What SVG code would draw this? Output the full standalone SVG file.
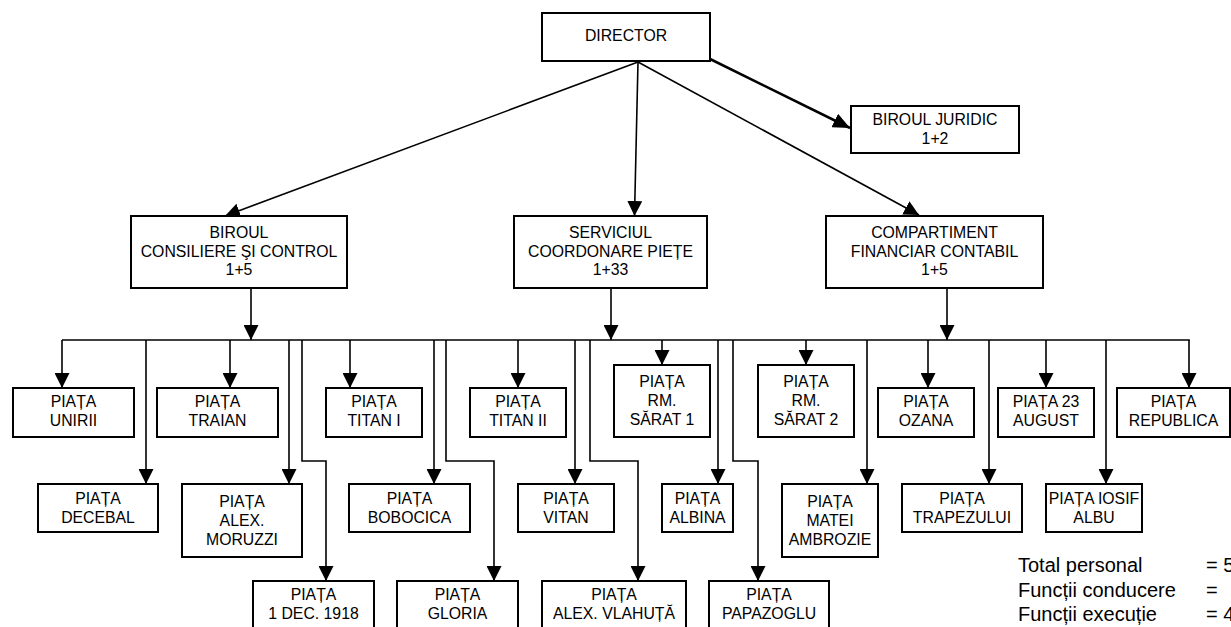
<svg xmlns="http://www.w3.org/2000/svg" width="1231" height="627" viewBox="0 0 1231 627">
<style>
  .box { fill: #fff; stroke: #000; stroke-width: 2; }
  .t { font-family: "Liberation Sans", Arial, sans-serif; font-size: 15.8px; fill: #000; text-anchor: middle; }
  .lg { font-family: "Liberation Sans", Arial, sans-serif; font-size: 20px; fill: #000; }
  .c { fill: none; stroke: #000; stroke-width: 1.6; }
  .cb { fill: none; stroke: #000; stroke-width: 2.6; }
</style>
<defs>
  <marker id="ah" markerUnits="userSpaceOnUse" viewBox="0 0 15 15" markerWidth="15" markerHeight="15" refX="15" refY="7.5" orient="auto">
    <path d="M0,0 L15,7.5 L0,15 Z" fill="#000"/>
  </marker>
  <marker id="ahb" markerUnits="userSpaceOnUse" viewBox="0 0 17 15" markerWidth="17" markerHeight="15" refX="17" refY="7.5" orient="auto">
    <path d="M0,0 L17,7.5 L0,15 Z" fill="#000"/>
  </marker>
</defs>

<g id="connectors">
  <line class="c" x1="638" y1="62" x2="225" y2="216" marker-end="url(#ah)"/>
  <line class="c" x1="638" y1="62" x2="634.5" y2="216" marker-end="url(#ah)"/>
  <line class="c" x1="638" y1="62" x2="919" y2="215" marker-end="url(#ah)"/>
  <line class="cb" x1="706" y1="57" x2="850" y2="128" marker-end="url(#ahb)"/>

  <line class="c" x1="251" y1="288" x2="251" y2="340" marker-end="url(#ah)"/>
  <line class="c" x1="611" y1="288" x2="611" y2="340" marker-end="url(#ah)"/>
  <line class="c" x1="947" y1="288" x2="947" y2="340" marker-end="url(#ah)"/>

  <line class="c" x1="62" y1="340" x2="1189.8" y2="340"/>

  <line class="c" x1="62" y1="340" x2="62" y2="388" marker-end="url(#ah)"/>
  <line class="c" x1="230" y1="340" x2="230" y2="388" marker-end="url(#ah)"/>
  <line class="c" x1="350" y1="340" x2="350" y2="388" marker-end="url(#ah)"/>
  <line class="c" x1="518" y1="340" x2="518" y2="388" marker-end="url(#ah)"/>
  <line class="c" x1="662" y1="340" x2="662" y2="365" marker-end="url(#ah)"/>
  <line class="c" x1="806" y1="340" x2="806" y2="365" marker-end="url(#ah)"/>
  <line class="c" x1="928" y1="340" x2="928" y2="388" marker-end="url(#ah)"/>
  <line class="c" x1="1046" y1="340" x2="1046" y2="388" marker-end="url(#ah)"/>
  <line class="c" x1="1189" y1="340" x2="1189" y2="388" marker-end="url(#ah)"/>

  <line class="c" x1="146" y1="340" x2="146" y2="484" marker-end="url(#ah)"/>
  <line class="c" x1="289" y1="340" x2="289" y2="484" marker-end="url(#ah)"/>
  <line class="c" x1="434" y1="340" x2="434" y2="484" marker-end="url(#ah)"/>
  <line class="c" x1="575" y1="340" x2="575" y2="484" marker-end="url(#ah)"/>
  <line class="c" x1="718" y1="340" x2="718" y2="484" marker-end="url(#ah)"/>
  <line class="c" x1="867" y1="340" x2="867" y2="484" marker-end="url(#ah)"/>
  <line class="c" x1="989" y1="340" x2="989" y2="484" marker-end="url(#ah)"/>
  <line class="c" x1="1106" y1="340" x2="1106" y2="484" marker-end="url(#ah)"/>

  <polyline class="c" points="302,340 302,461 326,461 326,581" marker-end="url(#ah)"/>
  <polyline class="c" points="446,340 446,461 494,461 494,581" marker-end="url(#ah)"/>
  <polyline class="c" points="590,340 590,461 638,461 638,581" marker-end="url(#ah)"/>
  <polyline class="c" points="733,340 733,461 758,461 758,581" marker-end="url(#ah)"/>
</g>

<g id="director">
  <rect class="box" x="542" y="13" width="168" height="48"/>
  <text class="t" x="626" y="41">DIRECTOR</text>
</g>
<g id="biroul-juridic">
  <rect class="box" x="851" y="106" width="168" height="47"/>
  <text class="t" x="935" y="125">BIROUL JURIDIC</text>
  <text class="t" x="935" y="144">1+2</text>
</g>
<g id="biroul-consiliere">
  <rect class="box" x="131" y="216" width="216" height="72"/>
  <text class="t" x="239" y="238">BIROUL</text>
  <text class="t" x="239" y="256.5">CONSILIERE ŞI CONTROL</text>
  <text class="t" x="239" y="275">1+5</text>
</g>
<g id="serviciul">
  <rect class="box" x="514" y="216" width="193" height="72"/>
  <text class="t" x="610.5" y="238">SERVICIUL</text>
  <text class="t" x="610.5" y="256.5">COORDONARE PIEȚE</text>
  <text class="t" x="610.5" y="275">1+33</text>
</g>
<g id="compartiment">
  <rect class="box" x="826" y="216" width="217" height="72"/>
  <text class="t" x="934.5" y="238">COMPARTIMENT</text>
  <text class="t" x="934.5" y="256.5">FINANCIAR CONTABIL</text>
  <text class="t" x="934.5" y="275">1+5</text>
</g>

<g id="piata-unirii">
  <rect class="box" x="13" y="388" width="121" height="49"/>
  <text class="t" x="73.5" y="407">PIAȚA</text>
  <text class="t" x="73.5" y="425.5">UNIRII</text>
</g>
<g id="piata-traian">
  <rect class="box" x="157" y="388" width="121" height="49"/>
  <text class="t" x="217.5" y="407">PIAȚA</text>
  <text class="t" x="217.5" y="425.5">TRAIAN</text>
</g>
<g id="piata-titan-1">
  <rect class="box" x="326" y="388" width="96" height="49"/>
  <text class="t" x="374" y="407">PIAȚA</text>
  <text class="t" x="374" y="425.5">TITAN I</text>
</g>
<g id="piata-titan-2">
  <rect class="box" x="470" y="388" width="96" height="49"/>
  <text class="t" x="518" y="407">PIAȚA</text>
  <text class="t" x="518" y="425.5">TITAN II</text>
</g>
<g id="piata-rm-sarat-1">
  <rect class="box" x="614" y="365" width="96" height="72"/>
  <text class="t" x="662" y="387">PIAȚA</text>
  <text class="t" x="662" y="406">RM.</text>
  <text class="t" x="662" y="425">SĂRAT 1</text>
</g>
<g id="piata-rm-sarat-2">
  <rect class="box" x="758" y="365" width="96" height="72"/>
  <text class="t" x="806" y="387">PIAȚA</text>
  <text class="t" x="806" y="406">RM.</text>
  <text class="t" x="806" y="425">SĂRAT 2</text>
</g>
<g id="piata-ozana">
  <rect class="box" x="878" y="388" width="96" height="49"/>
  <text class="t" x="926" y="407">PIAȚA</text>
  <text class="t" x="926" y="425.5">OZANA</text>
</g>
<g id="piata-23-august">
  <rect class="box" x="998" y="388" width="96" height="49"/>
  <text class="t" x="1046" y="407">PIAȚA 23</text>
  <text class="t" x="1046" y="425.5">AUGUST</text>
</g>
<g id="piata-republica">
  <rect class="box" x="1117" y="388" width="113" height="49"/>
  <text class="t" x="1173.5" y="407">PIAȚA</text>
  <text class="t" x="1173.5" y="425.5">REPUBLICA</text>
</g>

<g id="piata-decebal">
  <rect class="box" x="38" y="484" width="120" height="48"/>
  <text class="t" x="98" y="503.5">PIAȚA</text>
  <text class="t" x="98" y="522.5">DECEBAL</text>
</g>
<g id="piata-alex-moruzzi">
  <rect class="box" x="182" y="484" width="120" height="73"/>
  <text class="t" x="242" y="506.5">PIAȚA</text>
  <text class="t" x="242" y="525.5">ALEX.</text>
  <text class="t" x="242" y="545">MORUZZI</text>
</g>
<g id="piata-bobocica">
  <rect class="box" x="349" y="484" width="121" height="48"/>
  <text class="t" x="409.5" y="503.5">PIAȚA</text>
  <text class="t" x="409.5" y="522.5">BOBOCICA</text>
</g>
<g id="piata-vitan">
  <rect class="box" x="518" y="484" width="96" height="48"/>
  <text class="t" x="566" y="503.5">PIAȚA</text>
  <text class="t" x="566" y="522.5">VITAN</text>
</g>
<g id="piata-albina">
  <rect class="box" x="662" y="484" width="71" height="48"/>
  <text class="t" x="697.5" y="503.5">PIAȚA</text>
  <text class="t" x="697.5" y="522.5">ALBINA</text>
</g>
<g id="piata-matei-ambrozie">
  <rect class="box" x="782" y="484" width="96" height="73"/>
  <text class="t" x="830" y="506.5">PIAȚA</text>
  <text class="t" x="830" y="525.5">MATEI</text>
  <text class="t" x="830" y="545">AMBROZIE</text>
</g>
<g id="piata-trapezului">
  <rect class="box" x="902" y="484" width="120" height="48"/>
  <text class="t" x="962" y="503.5">PIAȚA</text>
  <text class="t" x="962" y="522.5">TRAPEZULUI</text>
</g>
<g id="piata-iosif-albu">
  <rect class="box" x="1046" y="484" width="96" height="48"/>
  <text class="t" x="1094" y="503.5">PIAȚA IOSIF</text>
  <text class="t" x="1094" y="522.5">ALBU</text>
</g>

<g id="piata-1-dec-1918">
  <rect class="box" x="253" y="581" width="121" height="60"/>
  <text class="t" x="313.5" y="599.5">PIAȚA</text>
  <text class="t" x="313.5" y="618.5">1 DEC. 1918</text>
</g>
<g id="piata-gloria">
  <rect class="box" x="397" y="581" width="121" height="60"/>
  <text class="t" x="457.5" y="599.5">PIAȚA</text>
  <text class="t" x="457.5" y="618.5">GLORIA</text>
</g>
<g id="piata-alex-vlahuta">
  <rect class="box" x="542" y="581" width="144" height="60"/>
  <text class="t" x="614" y="599.5">PIAȚA</text>
  <text class="t" x="614" y="618.5">ALEX. VLAHUȚĂ</text>
</g>
<g id="piata-papazoglu">
  <rect class="box" x="709" y="581" width="120" height="60"/>
  <text class="t" x="769" y="599.5">PIAȚA</text>
  <text class="t" x="769" y="618.5">PAPAZOGLU</text>
</g>

<g id="legend">
  <text class="lg" x="1018" y="572">Total personal</text>
  <text class="lg" x="1206" y="572">= 5</text>
  <text class="lg" x="1018" y="597">Funcții conducere</text>
  <text class="lg" x="1206" y="597">=</text>
  <text class="lg" x="1018" y="621">Funcții execuție</text>
  <text class="lg" x="1206" y="621">= 4</text>
</g>
</svg>
